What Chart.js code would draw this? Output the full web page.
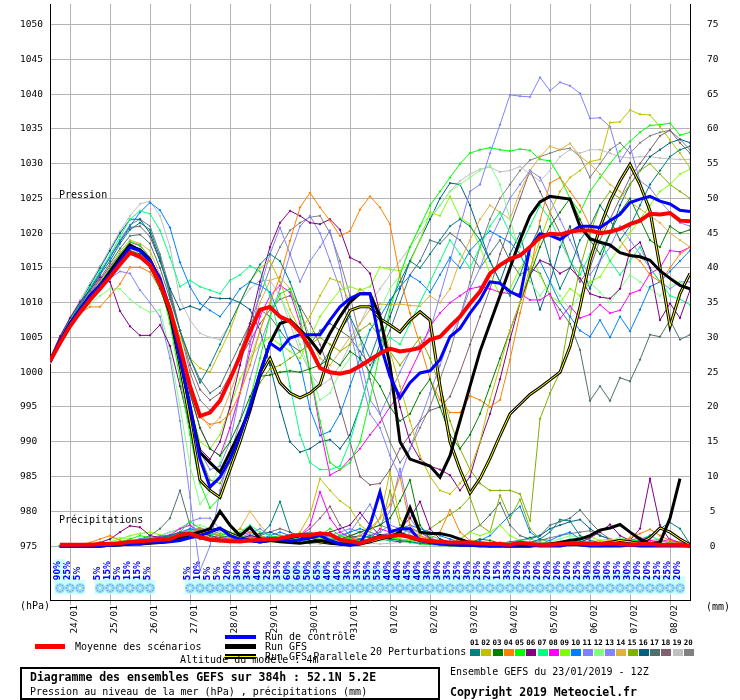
<!DOCTYPE html>
<html lang="fr">
<head>
<meta charset="utf-8">
<title>Diagramme des ensembles GEFS</title>
<script src="https://cdn.jsdelivr.net/npm/chart.js@4.4.1/dist/chart.umd.min.js"></script>
<style>
html,body{margin:0;padding:0;background:#fff;}
#wrap{position:relative;width:740px;height:700px;overflow:hidden;font-family:"DejaVu Sans Mono",monospace;font-size:10px;color:#000;}
#c{position:absolute;left:0;top:0;}
.t{position:absolute;white-space:pre;line-height:10px;}
.b{font-weight:bold;font-size:11.5px;line-height:12px;}
.sw{position:absolute;box-sizing:border-box;}
.num{position:absolute;font-weight:bold;font-size:7.5px;line-height:8px;white-space:pre;}
</style>
</head>
<body>
<div id="wrap">
<canvas id="c" width="740" height="700"></canvas>
<div class="t" style="left:59px;top:190px">Pression</div>
<div class="t" style="left:59px;top:515px">Précipitations</div>
<div class="t" style="left:20px;top:601px">(hPa)</div>
<div class="t" style="left:706px;top:602px">(mm)</div>
<div class="sw" style="left:35px;top:644px;width:30px;height:5px;background:#ff0000"></div>
<div class="t" style="left:75px;top:642px">Moyenne des scénarios</div>
<div class="sw" style="left:225px;top:635px;width:31px;height:4px;background:#0000ff"></div>
<div class="t" style="left:265px;top:632px">Run de contrôle</div>
<div class="sw" style="left:225px;top:644px;width:31px;height:5px;background:#000"></div>
<div class="t" style="left:265px;top:642px">Run GFS</div>
<div class="sw" style="left:225px;top:654px;width:31px;height:5px;background:#ffff00;border-top:2px solid #000;border-bottom:2px solid #000"></div>
<div class="t" style="left:265px;top:652px">Run GFS Parallele</div>
<div class="t" style="left:180px;top:655px">Altitude du modèle : 4m</div>
<div class="t" style="left:370px;top:647px">20 Perturbations</div>
<div id="pertLegend"></div>
<div class="sw" style="left:20px;top:667px;width:420px;height:33px;border:2px solid #000"></div>
<div class="t b" style="left:30px;top:671px">Diagramme des ensembles GEFS sur 384h : 52.1N 5.2E</div>
<div class="t" style="left:30px;top:687px">Pression au niveau de la mer (hPa) , précipitations (mm)</div>
<div class="t" style="left:450px;top:667px">Ensemble GEFS du 23/01/2019 - 12Z</div>
<div class="t b" style="left:450px;top:686px">Copyright 2019 Meteociel.fr</div>
</div>
<script>
// ---------- categories / ticks ----------
const hours = [0,6,12,18,24,30,36,42,48,54,60,66,72,78,84,90,96,102,108,114,120,126,132,138,144,150,156,162,168,174,180,186,192,198,204,210,216,222,228,234,240,246,252,258,264,270,276,282,288,294,300,306,312,318,324,330,336,342,348,354,360,366,372,378,384];
const dayTicks = [12,36,60,84,108,132,156,180,204,228,252,276,300,324,348,372];
const dayLabels = ['24/01','25/01','26/01','27/01','28/01','29/01','30/01','31/01','01/02','02/02','03/02','04/02','05/02','06/02','07/02','08/02'];
const pressureTicks = [975,980,985,990,995,1000,1005,1010,1015,1020,1025,1030,1035,1040,1045,1050];
const precipTicks = [0,5,10,15,20,25,30,35,40,45,50,55,60,65,70,75];
// probability of precipitation (%), per 6h step
const rainProb = [null,90,25,5,null,5,15,5,15,15,5,null,null,null,5,10,5,5,20,30,30,40,25,35,60,60,50,65,40,40,30,35,55,55,40,40,45,40,30,30,35,25,30,25,20,15,35,20,25,20,20,20,20,25,30,30,30,35,30,20,20,25,25,20,null];

// ---------- pressure (hPa) ----------
const meanP = [1001.6,1004.2,1006.6,1008.6,1010.4,1012.0,1013.7,1015.5,1017.2,1016.6,1015.4,1012.8,1009.0,1003.7,998.0,993.7,994.2,995.9,999.0,1002.3,1005.8,1009.0,1009.4,1008.0,1007.3,1005.8,1003.5,1000.6,1000.0,999.8,1000.1,1000.9,1001.8,1002.7,1003.4,1003.0,1003.2,1003.5,1004.7,1005.1,1006.6,1008.0,1009.9,1011.6,1014.2,1015.4,1016.3,1016.8,1018.0,1019.4,1019.9,1019.8,1020.2,1020.4,1020.4,1020.0,1020.2,1020.6,1021.3,1021.8,1022.8,1022.7,1022.9,1021.8,1021.7];
const ctrlP = [1001.5,1004.5,1007.0,1009.0,1011.0,1012.5,1014.0,1016.0,1018.0,1017.5,1016.0,1013.5,1009.0, 1002.0,995.2,987.5,983.5,984.9,987.5,990.9,995.1,999.9,1004.2,1003.2,1004.9, 1005.4,1005.4,1005.4,1007.5,1009.4,1010.6,1011.3,1011.3,1004.2,999.4,996.3,998.5, 999.9,1000.2,1001.8,1005.1,1006.3,1008.5,1010.4,1013.0,1012.8,1011.6,1010.9,1018.0, 1019.9,1019.7,1019.1,1020.1,1021.0,1021.0,1020.8,1021.8,1022.7,1024.4,1024.9,1025.3,1024.6,1024.2,1023.3,1023.1];
const gfsP = [1001.5,1004.5,1007.0,1009.0,1011.0,1012.5,1014.5,1016.5,1018.3,1017.5,1016.0,1013.0,1008.5, 1002.0,995.0,988.5,987.0,985.6,988.5,991.4,994.7,999.9,1004.2,1007.0,1007.5, 1006.1,1004.7,1002.8,1005.6,1008.0,1010.1,1011.3,1011.3,1008.0,1001.0,990.0,987.5, 987.0,986.5,984.9,988.0,993.0,998.0,1003.0,1007.0,1011.0,1015.0,1019.0,1022.5, 1024.5,1025.3,1025.1,1024.9,1021.0,1019.2,1018.7,1018.3,1017.2,1016.8,1016.6,1016.1,1014.6,1013.5,1012.5,1012.0];
const parP = [1001.5,1004.3,1006.8,1009.0,1010.8,1012.5,1014.3,1016.3,1018.0,1017.6,1016.2,1013.2,1008.5, 1001.0,993.0,984.5,983.0,982.0,986.0,990.0,994.5,999.5,1002.0,998.5,997.0, 996.3,997.0,998.2,1002.8,1006.0,1008.9,1009.4,1009.4,1007.7,1006.8,1005.8,1007.5, 1008.7,1007.5,998.0,990.0,986.0,982.6,984.7,987.6,990.9,994.0,995.4,996.8, 997.8,998.9,1000.0,1003.7,1009.4,1016.1,1020.8,1024.6,1027.5,1029.9,1027.0,1023.2,1015.1,1006.6,1011.3,1014.2];

const pert01 = [1001.8,1004.8,1007.2,1009.5,1011.8,1014,1016,1018.5,1020.5,1021.5,1020.5,1016.5,1011, 1006,1002,998.5,1001,1004,1007,1010,1013,1015.5,1017,1016,1013, 1009,1004,1001,1003,1006,1008,1005,1002,1006,1010,1013,1016, 1015,1017,1019,1021,1022,1021,1019,1016,1013,1011,1014,1018, 1021,1016,1012,1015,1019,1021,1024,1022,1019,1021,1024,1027,1029,1031,1032,1032.5];
const pert02 = [1001.4,1004.2,1006.9,1009,1011,1012.8,1014.5,1016.3,1018,1017.8,1016.5,1013.5,1009.5, 1005,1002,1000.6,1000,1003,1006,1010,1013,1015,1016,1013,1009, 1006,1008,1011,1013.5,1013,1010,1012,1011,1008,1003,998,993, 988,985,983,982.5,984,986,990,996,1001,1006,1010,1015, 1019,1023,1026,1028,1029,1030.3,1030.6,1035.9,1036,1037.7,1037.1,1037,1035.3,1033.4,1031.5,1029.4];
const pert03 = [1001.6,1004.5,1007,1009.2,1011,1012.7,1014.5,1016.2,1017.5,1017,1015,1012,1008, 1003,997,992,989,988,990,993,996.5,999.4,999.6,1000,1000.2, 1000,1000.5,1001,1002,1001,1003,1002,1000,998,995,993,994, 997,999,995,991,989,991,994,998,1002,1006,1010,1014, 1018,1021,1023,1025,1022,1019,1017,1020,1023,1025,1022,1019,1018,1021,1020,1020.5];
const pert04 = [1001.3,1004,1006.5,1008.5,1009.4,1009.4,1011,1012.7,1015.1,1015.1,1014.4,1012,1008, 1003,997,993.5,992.5,992.8,994,997,1001,1006,1010,1013.7,1018.9, 1023.7,1025.8,1023.7,1021.8,1019.6,1020.3,1023.4,1025.3,1023.7,1021.3,1013.7,1008.5, 1004,999,996,994.2,994.2,996.6,996,995,996,1001.8,1008.5,1014.2, 1021.8,1027.2,1028,1026,1024,1021,1020,1022,1019,1017,1016,1014,1013,1015,1017,1018];
const pert05 = [1001.7,1004.6,1007,1009,1011.2,1013,1015,1017,1018.8,1018.3,1016.5,1013,1007, 999,991,984,980.5,982,986,991,996,1002,1008,1011.3,1012, 1008,1000,993,987,986,987,990,996,1003,1009,1014,1018, 1021,1024,1026,1028,1030,1031.5,1032,1032.3,1032,1031.8,1032.1,1031.9, 1030.6,1030.4,1028,1025,1023,1026,1028,1030,1031.8,1033.2,1034.5,1035.5,1035.6,1035.8,1034.1,1034.5];
const pert06 = [1002,1005.2,1007.8,1010.1,1011.8,1013.7,1013,1008.8,1006.6,1005.3,1005.3,1006.8,1003.8, 998,992,989,987.5,990,995,1001,1007,1013,1018,1021.5,1023.2, 1022.5,1021.5,1021.3,1022,1020.5,1016.5,1015.8,1014.2,1008.5,1001,995,990, 987.5,986.5,986,985.2,983,985,989.9,994,999,1004.7,1010,1014, 1016.1,1015.5,1014.2,1015,1013.5,1011.3,1010.8,1010.6,1012,1017.5,1018.7,1015,1007.5,1009.9,1007.8,1011.8];
const pert07 = [1001.9,1005,1007.6,1010,1012.2,1014.6,1016.8,1019.5,1022,1023.2,1022.8,1020.4,1016.5, 1012.3,1013.2,1012.3,1011.8,1011.3,1013.2,1014,1015.3,1014.5,1011,1005,998, 991,987,986,986,986.5,990,995,1000,1003,1005,1004,1007, 1010,1013,1016,1019,1017,1015,1018,1021,1023,1020,1018,1021, 1024,1022,1019,1016,1014,1017,1019,1016,1014,1016,1018,1015,1013,1011,1010.5,1009.7];
const pert08 = [1001.5,1004.4,1007,1009.2,1011.3,1013.3,1015.2,1017,1018.7,1018.2,1016.5,1013,1008.5, 1003,997,992,989,988,992,997,1003,1008,1011,1012.5,1011.5, 1007,1000,992,985.2,986,987.5,989,991,992.8,995,997,1000, 1003,1006.6,1008.5,1010,1011,1012,1012.3,1012,1011.5,1011.3,1011.3,1010.4, 1010.4,1011.3,1007.7,1009.5,1007.8,1008.3,1009.7,1008.5,1008.9,1011.3,1011.8,1014.2,1015,1017.5,1017.3,1018];
const pert09 = [1001.5,1004.4,1006.9,1009,1011,1012.8,1014.6,1016.5,1018,1017.6,1016,1012.5,1007.5,1001,995, 990,989,991,995,999,1002,1004,1005,1004,1003, 1002,1005,1008,1010,1011.8,1012.3,1011.8,1012.3,1015.1,1014.8,1014.6,1015.8, 1019,1023,1022.5,1025.3,1022.2,1021.3,1018,1014.2,1011,1012,1015,1017, 1014,1011,1010,1012,1011,1013,1013.7,1016,1018,1020,1022,1024,1026,1027,1028.5,1029.2];
const pert10 = [1001.8,1004.8,1007.4,1009.8,1012,1014.2,1016.5,1018.8,1021,1023,1024.4,1023.3,1020.8, 1015.8,1012.3,1009.9,1008.9,1008,1009.9,1012,1013,1012.5,1011.5,1008,1004, 1001.3,994.7,990.9,991.5,994,998,1002,1006.1,1008,1010.4,1012.3,1013.9, 1013,1011.5,1014,1016.5,1015,1017.5,1019,1020.3,1019.5,1018.7,1017,1014, 1016,1013,1010,1008,1006,1005.1,1007.5,1005,1008,1005.9,1009,1012.3,1013,1014.5,1016,1017.5];
const pert11 = [1001.3,1004,1006.5,1008.6,1010.5,1012.3,1014.3,1016.2,1017.8,1017.2,1015.5,1012.5,1007.5, 1001,994,988.5,986,986.5,990,997,1004,1012,1017,1020.8,1017, 1013,1016,1018,1020.4,1015,1008,1002,996,994,997,1000,1003, 1004,1006,1011,1016,1021,1026,1027,1031.5,1035.6,1039.9,1039.7,1039.6, 1042.4,1040.5,1041.7,1041.2,1040.1,1036.5,1036.6,1035.3,1030.3,1032.5,1027.5,1026.5,1024.6,1023,1021.5,1021];
const pert12 = [1001.7,1004.2,1006.5,1008.3,1009.8,1011,1012,1012,1010.5,1009.4,1008.6,1009,1003, 995,986.6,981,983,987,992,997,1002,1006,1010,1011,1008, 1004,1000,996,997,1000,1002,1004,1006,1009,1012,1014,1018, 1021,1022.5,1024,1026,1027,1028,1029,1029.8,1027,1022,1017,1013, 1011,1013,1011,1009,1011,1013,1011.5,1010,1012,1014,1013,1012,1011,1012.5,1013,1012];
const pert13 = [1001.6,1004.3,1006.6,1008.4,1010.2,1011.9,1013.5,1014.5,1014.2,1011.8,1010,1008,1002, 993,982,971.5,975,983,988,993,999,1004,1008,1012,1017, 1021,1022.5,1020,1016,1012,1006,1000,994,992,988,985,989, 993,997,1001,1005,1008,1012,1015,1019,1022,1025,1027,1029, 1028,1025,1022,1019,1016,1014,1016,1018,1021,1019,1017,1015,1013,1012,1013,1013];
const pert14 = [1001.5,1004.5,1007.1,1009.3,1011.4,1013.4,1015.3,1017.4,1019,1018.5,1017.5,1014,1009.5, 1004,998,994,992,993.5,997,1001,1006,1010,1013.2,1013.7,1012, 1009,1005,1002,1001,1003,1005,1007,1009,1009.8,1009.7,1009.8,1009.6, 1009.5,1011,1010,1012,1016,1019,1022,1024,1023,1022,1026,1029, 1031,1032.5,1032,1032.9,1031,1030,1028.5,1027,1026,1024.5,1023.5,1022.5,1021.5,1020,1019,1018];
const pert15 = [1001.4,1004.3,1006.8,1008.8,1010.7,1012.6,1014.5,1016.6,1018.3,1017.7,1016,1012.5,1007.5, 1001,994,988,984.5,984,987,991,995,998.5,1000.5,1001,1002, 1003,1004,1005,1004,1003,1004,1006,1007,1005,1003,1001,1003, 1005,1002,998,993,989,986,984,983,983,983,982.5,978.6, 993.3,997,1000,1008,1015,1020,1024,1026,1025,1027,1029,1030,1028.5,1027,1026,1025];
const pert16 = [1001.8,1004.9,1007.6,1010,1012.5,1015,1017.5,1020,1022,1022,1020,1016,1012, 1009,1009.5,1009,1010.8,1010.6,1010.6,1010,1009,1006,1001,995,990, 988.5,989,990,990.3,989,991,995,1000,1004,1008,1012,1016, 1019,1022,1025,1027.2,1027,1024,1020,1016,1013,1017,1020,1014, 1009,1013,1018,1021,1016,1012,1016,1020,1024,1027,1029,1031,1032,1033,1033.5,1033];
const pert17 = [1001.6,1004.6,1007.2,1009.4,1011.5,1013.5,1015.6,1017.8,1019.6,1019.8,1018.5,1015,1010.5, 1006,1002,999,997,998,1001,1004,1007,1009,1008,1006,1004, 1003,1004,1006,1007,1006,1005,1003,1001,1003,1006,1010,1014, 1016,1019,1018.5,1020,1019,1017,1015,1017,1019,1016,1014,1015, 1014.2,1011,1009,1007,1003.2,995.9,998,995.9,999.2,998.7,1001.8,1005.4,1005.1,1007.5,1004.7,1005.4];
const pert18 = [1001.9,1004.9,1007.5,1009.8,1012,1014.2,1016.5,1018.8,1020.8,1021,1019.5,1016,1011.5, 1006,1001,997.5,996,997,999.5,1002,1004.5,1007,1009,1010.5,1011, 1009.5,1007,1004,1000,995,990,985,983.8,984,986,989,991, 993,994.5,995,996.5,1000,1004,1008,1012,1017,1021,1025,1029, 1026,1023,1020,1016,1013,1015,1019,1022,1025,1028,1030,1032,1034,1034.8,1033,1031.5];
const pert19 = [1002,1005,1007.8,1010.4,1012.8,1015.3,1017.8,1020.3,1022.5,1024.2,1024.6,1022.5,1018, 1010.4,1007.5,1005.6,1005,1004.7,1007,1010,1012,1013.2,1013.2,1011,1007, 1003,1000,998,999,1001,1004,1007,1010,1012,1014,1016,1018, 1020,1022,1024,1026,1027.5,1028.5,1029.2,1029.5,1028.8,1029,1029.6,1028.5, 1027.5,1029,1031,1032,1031.5,1032,1032,1031.5,1031,1030.8,1031,1031,1030.8,1030.7,1030.6,1030.6];
const pert20 = [1001.7,1004.8,1007.4,1009.7,1012,1014.3,1016.6,1019,1021.2,1022,1021,1017,1012, 1006,1000,996,994.5,996,999,1003,1007,1011,1015,1018,1020.4, 1021.5,1022.3,1022.5,1020,1016,1011,1005,999,994,990,987,989, 992,995,999,1003,1008,1013,1018,1022,1025,1027,1029,1030.5, 1031,1031.5,1032,1032.2,1031,1028,1030,1032,1033,1031.5,1033,1034,1034.5,1034.8,1033.5,1032];

// ---------- precipitation (mm / 6h) ----------
const meanR = [null,0.2,0.2,0.2,0.2,0.3,0.3,0.4, 0.6,0.7,0.8,0.9,1.0,1.6,1.8,1.3, 0.9,0.8,0.7,0.7,0.8,0.9,1.0,1.1, 1.4,1.6,1.6,1.8,1.7,0.9,0.7,0.4, 0.9,1.3,1.4,1.6,1.3,0.9,0.7,0.6, 0.5,0.5,0.5,0.4,0.3,0.3,0.2,0.5, 0.3,0.2,0.2,0.3,0.4,0.4,0.3,0.3, 0.4,0.3,0.2,0.3,0.3,0.2,0.2,0.2, 0];
const ctrlR = [null,0,0,0,0,0,0.1,0.2, 0.3,0.3,0.5,0.5,0.6,0.8,1.2,1.5, 2.0,2.6,1.5,1.0,0.8,0.6,0.8,1.0, 0.7,0.9,1.2,1.5,0.8,0.3,0.1,0.3, 3.0,7.8,2.0,2.5,2.5,0.8,0.5,0.3, 0.2,0.1,0.1,0,0,0,0,0.2, 0.1,0,0,0,0.3,0.2,0,0, 0,0,0.1,0,0,0,0,0, 0];
const gfsR = [null,0,0,0,0,0,0.1,0.2, 0.3,0.4,0.5,0.6,0.8,1.2,1.6,2.0, 2.5,5.0,3.0,1.5,2.7,1.0,0.8,0.6, 0.5,0.4,0.6,0.8,0.5,0.3,0.2,0.4, 0.8,1.5,1.2,2.0,5.5,2.0,1.8,1.8, 1.5,1.0,0.5,0.3,0.2,0.1,0,0, 0,0.2,0.3,0.5,0.8,1.0,1.5,2.3, 2.6,3.1,2.0,1.0,0.3,0.5,4.0,9.7, null];
const parR = [null,0,0,0,0,0,0.1,0.2, 0.3,0.3,0.4,0.5,0.7,1.0,1.4,1.8, 2.2,2.5,1.8,1.2,0.8,0.6,0.8,1.0, 1.2,1.5,1.0,0.6,0.4,0.3,0.2,0.3, 0.6,1.0,1.4,1.8,1.2,0.8,0.6,0.4, 0.3,0.2,0.1,0.1,0,0,0,0, 0,0.1,0.2,0.3,0.3,0.2,0.2,0.3, 0.5,0.8,0.6,0.4,1.2,2.6,2.0,1.0, 0.2];

const rain01 = [null,0,0,0,0.1,0.2,0.3,0.5, 0.6,0.8,1.0,1.2,1.5,2.0,1.5,1.0, 0.8,1.2,1.5,1.0,0.8,1.5,3.0,6.4, 2.0,1.0,0.8,0.6,0.5,0.4,0.6,1.0, 1.5,1.2,1.0,0.8,0.6,0.4,0.3,0.2, 0.2,0.1,0,0,0,0.1,0.2,0.3, 0.5,1.0,2.0,3.8,3.6,1.5,0.8,0.5, 0.3,0.2,0.2,0.5,1.5,2.5,3.4,2.5, 0.3];
const rain02 = [null,0,0,0,0,0.1,0.3,0.4, 0.5,0.6,0.8,1.0,1.2,1.5,2.0,1.6, 1.2,1.0,1.5,2.5,2.0,1.5,1.0,0.8, 1.2,2.0,4.5,9.7,8.0,6.5,5.5,3.0, 2.0,4.0,10.7,4.0,1.5,1.0,0.6,0.4, 0.3,0.2,0.1,0,0,0,0.1,0.2, 0.3,0.2,0.1,0,0.1,0.2,0.3,0.2, 0.1,0,0,0.1,0.2,0.3,0.4,0.3, 0.1];
const rain03 = [null,0,0,0,0,0.1,0.2,0.3, 0.4,0.5,0.6,0.8,1.0,1.2,1.8,2.2, 1.5,1.0,0.8,0.6,0.8,1.0,1.2,0.9, 0.7,0.5,0.4,0.6,0.8,1.0,1.5,2.0, 2.5,3.0,4.0,6.5,9.5,3.0,1.0,0.6, 0.4,0.3,0.5,1.0,0.8,0.4,0.2,0.1, 0,0,0.1,0.2,0.3,0.2,0.1,0, 0,0.1,0.3,0.5,0.3,0.2,0.1,0.2, 0];
const rain04 = [null,0,0,0.2,0.5,1.0,1.5,0.8, 0.5,0.4,0.6,0.8,1.0,1.4,1.8,2.5, 2.0,1.5,1.0,0.8,1.2,1.0,0.8,0.6, 0.5,0.8,1.0,0.7,0.5,0.4,0.8,1.5, 2.5,4.0,6.0,10.0,3.0,1.5,1.0,2.0, 5.2,2.0,0.8,0.5,0.3,0.2,0.1,0.1, 0.2,0.3,0.5,0.3,0.2,0.1,0.3,0.5, 0.8,0.6,1.2,1.8,2.4,1.5,0.8,0.4, 0.1];
const rain05 = [null,0,0,0,0,0.1,0.3,0.6, 1.0,1.5,1.2,1.0,1.2,2.0,3.5,2.5, 1.8,1.5,2.0,1.5,1.0,0.8,1.2,1.5, 1.0,0.8,1.0,1.5,2.5,1.5,1.0,0.8, 1.0,1.5,1.2,0.8,0.5,0.3,0.2,0.1, 0,0,0.1,0.2,0.3,0.2,0.1,0, 0,0,0.2,0.4,0.3,0.2,0.1,0.2, 0.5,0.8,1.0,0.6,0.3,0.2,0.1,0, 0];
const rain06 = [null,0,0,0,0.2,0.5,1.0,2.0, 2.9,2.7,1.5,1.2,1.5,2.0,1.8,1.5, 1.2,1.0,0.8,1.0,1.5,1.2,1.0,0.8, 0.6,0.8,1.0,1.5,2.0,2.5,3.0,4.8, 3.0,1.5,1.0,2.5,4.0,6.4,2.5,1.0, 0.6,0.4,0.2,0.1,0,0,0,0.1, 0.2,0.3,0.2,0.1,0.2,0.5,1.2,2.0, 3.1,1.5,0.8,2.5,9.7,3.0,0.8,0.5, 0.2];
const rain07 = [null,0,0,0,0,0,0.2,0.4, 0.6,0.8,1.0,1.2,1.5,1.8,2.2,2.0, 1.8,1.5,1.2,2.0,3.0,2.0,1.5,1.0, 0.8,1.2,1.8,1.5,1.0,0.8,0.6,1.0, 1.5,1.2,0.8,1.5,2.5,2.0,1.5,1.0, 0.5,0.3,0.2,0.1,0.2,0.3,0.5,0.8, 1.0,0.6,0.4,0.6,1.0,0.8,0.5,0.3, 0.2,0.4,0.6,1.0,1.5,0.8,0.5,0.3, 0.1];
const rain08 = [null,0,0,0,0,0.1,0.2,0.4, 0.6,0.8,1.0,1.4,1.6,2.5,3.0,2.0, 1.5,1.2,1.0,1.5,2.0,1.5,1.0,0.8, 1.0,1.5,3.0,7.8,4.0,2.0,1.2,0.8, 1.0,2.5,2.0,1.5,2.6,2.0,1.2,0.6, 0.4,0.3,0.2,0.1,0,0,0,0.1, 0.2,0.3,0.4,0.6,0.8,0.5,0.3,0.2, 0.2,0.4,0.8,1.2,0.8,0.6,1.0,0.5, 0.2];
const rain09 = [null,0,0,0,0.1,0.3,0.6,1.0, 1.5,1.8,2.0,1.6,1.2,1.5,2.0,2.5, 2.0,1.6,1.2,1.0,0.8,1.0,1.2,1.0, 0.8,0.6,0.8,1.0,1.2,1.0,0.8,0.6, 0.8,1.0,1.2,1.0,0.8,0.6,0.4,0.3, 0.5,1.0,2.0,1.5,2.0,3.0,1.5,0.8, 0.5,0.3,0.2,0.4,0.6,1.0,1.4,0.8, 0.5,0.3,0.2,0.1,0.2,0.3,0.2,0.1, 0];
const rain10 = [null,0,0,0,0,0.1,0.2,0.3, 0.5,0.6,0.8,1.0,1.4,1.8,2.5,2.2, 1.8,1.5,1.2,1.0,0.8,1.0,1.5,2.0, 1.5,1.2,1.0,0.8,1.0,1.5,2.0,2.5, 2.0,1.5,1.8,2.5,3.0,2.5,2.0,1.5, 1.0,0.6,0.4,0.8,1.5,3.0,4.5,5.7, 2.0,1.0,0.8,1.5,2.0,1.0,0.5,0.3, 0.5,0.8,0.6,0.4,0.3,0.2,0.1,0.2, 0];
const rain11 = [null,0,0,0,0,0.1,0.2,0.4, 0.6,0.8,1.0,1.2,1.5,2.0,2.5,1.5, 1.2,1.0,0.8,1.2,1.8,2.5,1.5,1.0, 0.8,1.0,1.5,2.0,1.5,1.2,2.0,4.0, 6.0,3.0,5.0,11.1,4.0,2.0,1.0,0.5, 0.3,0.2,0.1,0,0,0,0,0, 0.1,0.2,0.1,0,0,0.1,0.2,0.3, 0.4,0.3,0.2,0.1,0,0.1,0.2,0.1, 0];
const rain12 = [null,0,0,0.1,0.3,0.6,1.0,1.2, 1.0,0.8,1.0,1.5,2.0,2.5,3.0,3.0, 2.5,2.0,1.5,1.2,1.0,0.8,0.6,0.8, 1.0,1.2,1.5,1.2,1.0,0.8,0.6,0.5, 0.6,0.8,1.0,1.2,1.5,1.0,0.6,0.4, 0.2,0.1,0.1,0.2,0.4,0.6,0.4,0.2, 0.1,0.2,0.6,1.0,1.5,1.2,0.8,0.5, 0.8,1.2,0.8,0.5,0.3,0.2,0.1,0.1, 0];
const rain13 = [null,0,0,0,0.1,0.2,0.4,0.6, 0.8,1.0,1.2,1.5,2.0,2.5,3.5,4.0, 4.0,2.5,1.5,1.0,0.8,0.6,0.8,1.0, 1.2,1.0,0.8,1.0,1.5,2.0,2.5,2.0, 1.5,2.0,3.0,2.5,2.0,1.0,0.6,0.4, 0.3,0.2,0.1,0,0,0.1,0.2,0.4, 0.6,0.4,0.2,0.1,0.2,0.4,0.6,0.4, 0.3,0.2,0.4,0.6,0.4,0.2,0.1,0, 0];
const rain14 = [null,0,0,0,0,0.1,0.2,0.3, 0.5,0.7,0.9,1.1,1.3,1.6,2.0,2.2, 2.5,2.0,1.5,2.5,5.0,3.0,1.5,1.0, 0.8,0.6,0.5,0.8,1.2,1.5,1.0,0.8, 1.0,1.5,2.0,1.8,1.5,1.2,1.0,0.8, 0.6,0.4,0.3,0.2,0.1,0.1,0.2,0.3, 0.4,0.3,0.2,0.1,0.2,0.4,0.6,0.8, 1.0,0.8,0.6,0.5,0.8,1.0,0.6,0.3, 0.1];
const rain15 = [null,0,0,0,0,0.1,0.2,0.3, 0.4,0.5,0.6,0.8,1.0,1.2,1.6,2.0, 1.8,1.5,1.2,1.0,0.8,0.6,0.8,1.0, 1.2,1.5,1.2,1.0,0.8,0.6,0.8,1.0, 1.5,2.0,8.0,3.0,2.0,1.5,2.5,3.5, 4.5,5.5,7.0,3.0,2.0,7.3,4.0,6.7, 2.5,1.0,0.5,0.3,0.2,0.1,0,0, 0,0.1,0.2,0.3,0.2,0.1,0,0, 0];
const rain16 = [null,0,0,0,0.1,0.2,0.4,0.6, 0.8,1.0,1.2,1.0,1.2,1.5,2.0,1.8, 1.5,1.2,1.0,1.2,1.5,1.8,2.0,1.5, 1.2,1.0,0.8,0.6,0.5,0.8,1.2,1.5, 1.2,1.0,0.8,0.6,0.8,1.0,0.8,0.6, 0.4,0.3,0.2,0.1,0.2,0.4,0.6,0.8, 1.2,1.5,2.5,3.0,3.5,3.8,2.5,1.5, 1.0,0.8,0.6,0.8,1.5,2.5,2.0,1.0, 0.2];
const rain17 = [null,0,0,0,0.1,0.2,0.3,0.5, 0.8,1.0,1.5,2.5,4.0,8.0,3.0,1.5, 1.2,1.0,0.8,1.0,1.2,1.5,1.0,0.8, 0.6,0.8,1.0,1.2,1.5,1.0,0.8,0.6, 0.8,1.0,1.2,1.0,0.8,0.6,0.4,0.3, 0.5,1.0,2.0,3.0,4.5,6.2,3.0,1.5, 1.0,1.5,3.0,3.5,4.0,5.2,3.5,2.0, 1.0,0.6,0.4,0.3,0.5,0.8,0.5,0.2, 0];
const rain18 = [null,0,0,0,0,0.1,0.2,0.4, 0.6,0.8,1.0,1.2,1.4,1.8,2.2,2.0, 1.8,1.5,1.2,1.0,1.2,1.5,2.0,2.5, 2.0,1.5,2.5,4.0,5.7,3.0,1.5,1.0, 0.8,1.2,1.6,2.0,1.5,1.0,0.8,0.5, 0.3,0.2,0.1,0.1,0.2,0.3,0.2,0.1, 0.1,0.2,0.3,0.5,0.4,0.3,0.2,0.1, 0.2,0.4,0.6,0.5,0.3,0.2,0.1,0.1, 0];
const rain19 = [null,0,0,0,0,0,0.1,0.2, 0.3,0.4,0.5,0.6,0.8,1.0,1.2,1.0, 0.8,0.6,0.5,0.4,0.6,0.8,1.0,0.8, 0.6,0.5,0.4,0.3,0.4,0.5,0.6,0.5, 0.4,0.3,0.4,0.5,0.6,0.4,0.3,0.2, 0.1,0,0,0,0,0,0.1,0.1, 0.2,0.3,0.4,0.3,0.2,0.1,0,0, 0,0.1,0.2,0.3,0.2,0.1,0,0, 0];
const rain20 = [null,0,0,0,0.1,0.2,0.3,0.4, 0.6,0.8,1.0,1.2,1.5,1.8,2.2,2.6, 2.2,1.8,1.5,1.2,1.0,0.8,1.0,1.2, 1.5,1.8,2.0,1.5,1.2,1.0,1.4,2.0, 2.5,3.0,2.5,2.0,1.5,1.2,1.0,0.8, 0.6,0.4,0.3,0.2,0.1,0.1,0.2,0.3, 0.5,0.8,1.2,1.5,1.8,2.0,2.2,1.5, 1.0,0.8,0.6,0.4,0.3,0.2,0.1,0.1, 0];

const pertNames = ['01','02','03','04','05','06','07','08','09','10','11','12','13','14','15','16','17','18','19','20'];
const pertColors = ['#008080','#c0c000','#008000','#ff8000','#00ff00','#800080','#00ff80','#ff00ff','#80ff00','#0080ff','#8080ff','#80ff80','#8484ff','#e0b040','#80b000','#006080','#507070','#806070','#c0c0c0','#808080'];
const pertPressure = [pert01,pert02,pert03,pert04,pert05,pert06,pert07,pert08,pert09,pert10,pert11,pert12,pert13,pert14,pert15,pert16,pert17,pert18,pert19,pert20];
const pertRain = [rain01,rain02,rain03,rain04,rain05,rain06,rain07,rain08,rain09,rain10,rain11,rain12,rain13,rain14,rain15,rain16,rain17,rain18,rain19,rain20];

// ---------- layout constants (not data) ----------
const probBarBottom = -50;   // value on hidden 'yp' axis where the probability bars start
const probLabelBase = 6;     // value on 'yp' axis where the % text starts
const flakeLevel = -26;      // value on 'yp' axis of the weather-symbol row

// legend swatches for the 20 perturbations
(function(){
  const box = document.getElementById('pertLegend');
  pertNames.forEach((n, k) => {
    const left = 470 + k * 11.25;
    const t = document.createElement('div');
    t.className = 'num'; t.textContent = n;
    t.style.left = (left) + 'px'; t.style.top = '639px';
    box.appendChild(t);
    const s = document.createElement('div');
    s.className = 'sw';
    s.style.left = left + 'px'; s.style.top = '649px';
    s.style.width = '10px'; s.style.height = '7px';
    s.style.background = pertColors[k];
    box.appendChild(s);
  });
})();

const toPts = arr => arr.map((v, i) => ({ x: hours[i], y: v }));

function lineDs(label, arr, color, width, order, axis, withPoints) {
  return {
    type: 'line', label, data: toPts(arr), yAxisID: axis, xAxisID: 'x',
    borderColor: color, backgroundColor: color, borderWidth: width,
    pointRadius: withPoints ? 1.4 : 0, pointStyle: 'rectRot',
    pointBorderWidth: 0, pointBackgroundColor: color,
    tension: 0, fill: false, order, spanGaps: false
  };
}

const datasets = [];
// mean, control, GFS, GFS parallel (pressure + precipitation)
datasets.push(lineDs('Moyenne des scénarios', meanP, '#ff0000', 4, 0, 'y', false));
datasets.push(lineDs('Moyenne précip', meanR, '#ff0000', 4, 0, 'y2', false));
datasets.push(lineDs('Run de contrôle', ctrlP, '#0000ff', 3, 1, 'y', false));
datasets.push(lineDs('Contrôle précip', ctrlR, '#0000ff', 3, 1, 'y2', false));
datasets.push(lineDs('Run GFS', gfsP, '#000000', 3, 2, 'y', false));
datasets.push(lineDs('GFS précip', gfsR, '#000000', 3, 2, 'y2', false));
datasets.push(lineDs('Run GFS Parallele (int)', parP, '#ffff00', 1, 3, 'y', false));
datasets.push(lineDs('Run GFS Parallele', parP, '#000000', 3, 4, 'y', false));
datasets.push(lineDs('GFS Par précip (int)', parR, '#ffff00', 1, 3, 'y2', false));
datasets.push(lineDs('GFS Par précip', parR, '#000000', 3, 4, 'y2', false));
pertPressure.forEach((arr, k) => {
  datasets.push(lineDs('P' + pertNames[k], arr, pertColors[k], 1, 10, 'y', true));
});
pertRain.forEach((arr, k) => {
  datasets.push(lineDs('R' + pertNames[k], arr, pertColors[k], 1, 10, 'y2', true));
});
// probability of precipitation bars (light cyan, behind everything)
datasets.push({
  type: 'bar', label: 'prob',
  data: rainProb.map((v, i) => v === null ? null : { x: hours[i], y: [probBarBottom, v] }).filter(Boolean),
  xAxisID: 'x', yAxisID: 'yp', backgroundColor: '#ccffff', borderWidth: 0,
  barThickness: 10, grouped: false, order: 100
});

const stripPlugin = {
  id: 'strip',
  afterDatasetDraw(chart, args) {
    if (args.meta.type !== 'bar') return;
    const ctx = chart.ctx, xs = chart.scales.x, yp = chart.scales.yp;
    const fy = yp.getPixelForValue(flakeLevel);
    const ly = yp.getPixelForValue(probLabelBase);
    ctx.save();
    rainProb.forEach((v, i) => {
      if (v === null) return;
      const x = xs.getPixelForValue(hours[i]);
      ctx.fillStyle = '#a6ddf4';
      ctx.beginPath(); ctx.arc(x, fy, 5.2, 0, Math.PI * 2); ctx.fill();
      ctx.fillStyle = '#4fb3e6';
      [[-2.5,-2.5],[2.5,-2.5],[-2.5,2.5],[2.5,2.5],[0,-3.5],[0,3.5],[-3.5,0],[3.5,0]].forEach(([dx,dy]) => {
        ctx.fillRect(x + dx - 0.7, fy + dy - 0.7, 1.4, 1.4);
      });
      ctx.fillStyle = '#ffffff';
      ctx.fillRect(x - 0.8, fy - 0.8, 1.6, 1.6);
      ctx.save();
      ctx.translate(x - 2, ly);
      ctx.rotate(-Math.PI / 2);
      ctx.font = 'bold 8px "DejaVu Sans"';
      ctx.fillStyle = '#0000ff';
      ctx.textAlign = 'left';
      ctx.textBaseline = 'middle';
      ctx.fillText(v + '%', 0, 0);
      ctx.restore();
    });
    ctx.restore();
  }
};

Chart.defaults.font.family = '"DejaVu Sans Mono", monospace';
Chart.defaults.color = '#000';

new Chart(document.getElementById('c'), {
  type: 'line',
  data: { datasets },
  plugins: [stripPlugin],
  options: {
    responsive: false,
    animation: false,
    events: [],
    layout: { padding: { left: 20, right: 0, top: 0, bottom: 0 } },
    plugins: { legend: { display: false }, tooltip: { enabled: false } },
    scales: {
      x: {
        type: 'linear', position: 'bottom', min: 0, max: 384, offset: false,
        afterBuildTicks: s => { s.ticks = dayTicks.map(v => ({ value: v })); },
        afterFit: s => { s.height = 100; s.paddingLeft = 0; s.paddingRight = 0; },
        grid: { color: '#b4b4b4', lineWidth: 1, offset: false, drawTicks: true, tickLength: 5, tickColor: '#b4b4b4' },
        border: { display: true, color: '#000', width: 1 },
        ticks: {
          autoSkip: false, minRotation: 90, maxRotation: 90, padding: 0, labelOffset: 5,
          font: { size: 9.5 }, color: '#000',
          callback: v => { const k = dayTicks.indexOf(v); return k >= 0 ? dayLabels[k] : ''; }
        }
      },
      y: {
        position: 'left', min: 967.24, max: 1052.96,
        afterBuildTicks: s => { s.ticks = pressureTicks.map(v => ({ value: v })); },
        afterFit: s => { s.width = 30; s.paddingTop = 0; s.paddingBottom = 0; },
        grid: { color: '#b4b4b4', lineWidth: 1, drawTicks: false },
        border: { display: true, color: '#000', width: 1 },
        ticks: { crossAlign: 'far', padding: 0, font: { size: 9.5 }, color: '#000', callback: v => String(v) }
      },
      y2: {
        position: 'right', min: -7.76, max: 77.96,
        afterBuildTicks: s => { s.ticks = precipTicks.map(v => ({ value: v })); },
        afterFit: s => { s.width = 50; s.paddingTop = 0; s.paddingBottom = 0; },
        grid: { drawOnChartArea: false, drawTicks: false },
        border: { display: true, color: '#000', width: 1 },
        ticks: { crossAlign: 'center', padding: 17, font: { size: 9.5 }, color: '#000', callback: v => String(v) }
      },
      yp: { display: false, min: -74, max: 2326 }
    }
  }
});
</script>
</body>
</html>
